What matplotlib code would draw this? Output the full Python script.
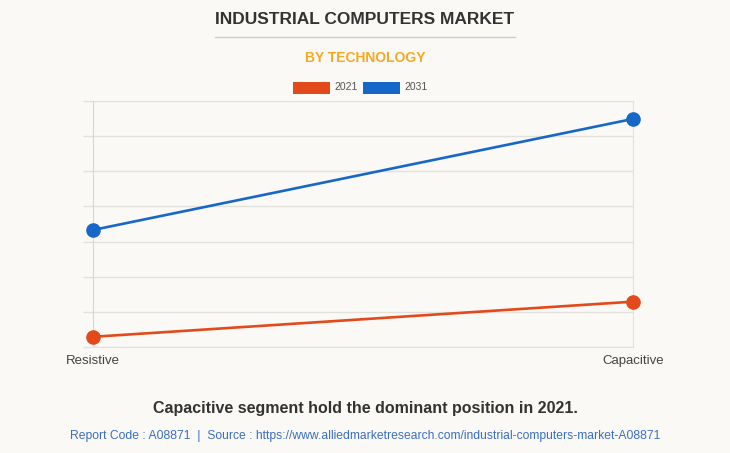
import matplotlib.pyplot as plt
from matplotlib.patches import Rectangle
from matplotlib.lines import Line2D

categories = ["Resistive", "Capacitive"]
years = ["2021", "2031"]
values_2021 = [0.29, 1.29]
values_2031 = [3.33, 6.49]
colors = ["#e24a1b", "#1767c9"]

bg = "#faf9f5"
grid_c = "#e3e1dc"

fig = plt.figure(figsize=(7.3, 4.53), dpi=100, facecolor=bg)
ax = fig.add_axes([93 / 730, 1 - 347 / 453, 540 / 730, 246 / 453])
ax.set_facecolor(bg)

x = range(len(categories))
for vals, c in zip([values_2021, values_2031], colors):
    ax.plot(x, vals, color=c, lw=1.9, marker="o", markersize=9.5, zorder=3, clip_on=False)

ax.set_xlim(0, 1)
ax.set_ylim(0, 7)
ax.set_yticks(range(0, 8))
ax.set_yticklabels([])
ax.tick_params(axis="y", length=7, color=grid_c, width=1)
ax.grid(axis="y", color=grid_c, lw=1)
ax.set_xticks(list(x))
ax.set_xticklabels(categories, fontsize=9.5, color="#444444", family="Liberation Sans")
ax.tick_params(axis="x", length=0, pad=6)
ax.spines["top"].set_visible(False)
ax.spines["bottom"].set_color(grid_c)
ax.spines["left"].set_color("#d8d6d1")
ax.spines["right"].set_color(grid_c)

# titles
fig.text(0.5, 1 - 20 / 453, "INDUSTRIAL COMPUTERS MARKET", ha="center", va="center",
         fontsize=12.5, fontweight="bold", color="#333333", family="Liberation Sans")
fig.add_artist(Line2D([215 / 730, 515 / 730], [1 - 37 / 453] * 2, color="#cccccc", lw=1))
fig.text(0.5, 1 - 58 / 453, "BY TECHNOLOGY", ha="center", va="center",
         fontsize=10, fontweight="bold", color="#f7a823", family="Liberation Sans")

# legend
for i, (yr, c) in enumerate(zip(years, colors)):
    x0 = 293 + i * 70
    fig.add_artist(Rectangle((x0 / 730, 1 - 94 / 453), 37 / 730, 12 / 453,
                             transform=fig.transFigure, facecolor=c, edgecolor="none"))
    fig.text((x0 + 41) / 730, 1 - 87.5 / 453, yr, ha="left", va="center",
             fontsize=7.5, color="#555555", family="Liberation Sans")

fig.text(0.5, 1 - 408 / 453, "Capacitive segment hold the dominant position in 2021.",
         ha="center", va="center", fontsize=11.5, fontweight="bold", color="#333333",
         family="Liberation Sans")
fig.text(0.5, 1 - 436 / 453,
         "Report Code : A08871  |  Source : https://www.alliedmarketresearch.com/industrial-computers-market-A08871",
         ha="center", va="center", fontsize=8.7, color="#3a6fc4", family="Liberation Sans")

fig.savefig("out.png", dpi=100, facecolor=bg)
